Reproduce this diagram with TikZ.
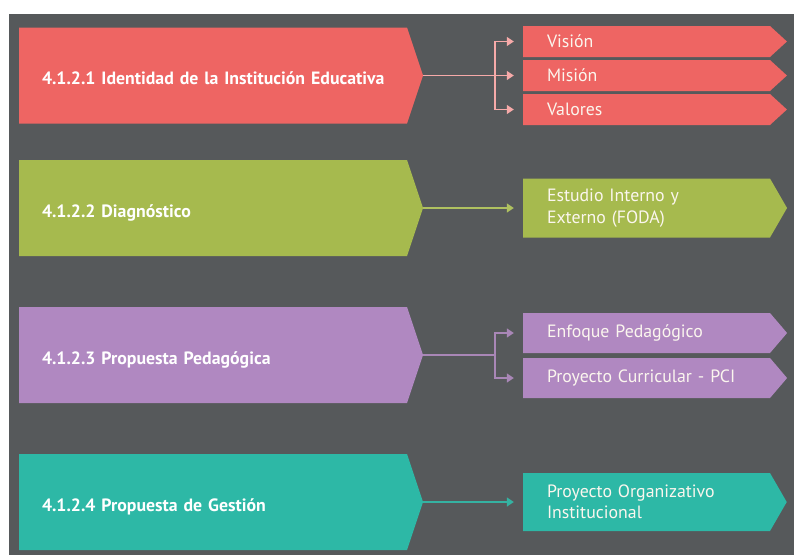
\documentclass[tikz,border=0pt]{standalone}
\usepackage{fontspec}
\setmainfont{PT Sans}
\usepackage{tikz}
\usetikzlibrary{shapes}
\usetikzlibrary{arrows.meta}
\usetikzlibrary{positioning}
\definecolor{fondo}{HTML}{56595B}
\definecolor{rojo}{HTML}{EE6563}
\definecolor{verde}{HTML}{A6BA4E}
\definecolor{morado}{HTML}{B088C1}
\definecolor{turquesa}{HTML}{2DB8A6}
\definecolor{blanco}{HTML}{FBF6EE}
\tikzstyle{tema}=[
        signal,
        signal from=nowhere,
        signal to=east,
        signal pointer angle=143,
        text width=346pt,
        align=left,
        inner xsep=21pt,
        minimum height=96pt,
        text height=18pt,
        text depth=0pt,
        text=white,
        font=\bfseries\fontsize{17.8}{21}\selectfont
]
\tikzstyle{item}=[
        signal,
        signal from=nowhere,
        signal to=east,
        text width=199pt,
        align=left,
        inner xsep=24pt,
        inner ysep=0pt,
        text=blanco,
        font=\fontsize{17.8}{21.5}\selectfont
]
\tikzstyle{suite}=[-{Triangle[length=7pt,width=9pt]},line width=1.5pt,shorten >=9pt]
\tikzstyle{lien}=[line width=1.5pt]

\begin{document}
\begin{tikzpicture}[x=1pt,y=-1pt]
\useasboundingbox (0,0) rectangle (794,555);
\fill[fondo] (9,14) rectangle (794,555);
\node[tema,fill=rojo] (ident) at (213,75.5) {\hspace*{2pt}4.1.2.1 Identidad de la Institución Educativa};
\node[item,fill=rojo,minimum height=31pt,signal pointer angle=85] (vision) at (646.5,41.5) {Visión};
\node[item,fill=rojo,minimum height=31pt,signal pointer angle=85] (mision) at (646.5,75.5) {Misión};
\node[item,fill=rojo,minimum height=31pt,signal pointer angle=85] (valores) at (646.5,109.5) {Valores};
\node[tema,fill=verde] (diag) at (213,208) {\hspace*{2pt}4.1.2.2 Diagnóstico};
\node[item,fill=verde,minimum height=59pt,signal pointer angle=120] (foda) at (646.5,208) {Estudio Interno y\\Externo (FODA)};
\node[tema,fill=morado] (pedag) at (213,355) {\hspace*{2pt}4.1.2.3 Propuesta Pedagógica};
\node[item,fill=morado,minimum height=40pt,signal pointer angle=99] (enfoque) at (646.5,333) {Enfoque Pedagógico};
\node[item,fill=morado,minimum height=40pt,signal pointer angle=99] (pci) at (646.5,378) {Proyecto Curricular - PCI};
\node[tema,fill=turquesa] (gestion) at (213,502) {\hspace*{2pt}4.1.2.4 Propuesta de Gestión};
\node[item,fill=turquesa,minimum height=58pt,signal pointer angle=120] (poi) at (646.5,502) {Proyecto Organizativo\\Institucional};
%Placementdesflèches
\coordinate (r) at (495,75.5);
\coordinate (p) at (495,355);
\draw[suite,draw=rojo!55!white] (ident.east) -- (mision.west);
\draw[suite,draw=rojo!55!white] (r) |- (vision.west);
\draw[suite,draw=rojo!55!white] (r) |- (valores.west);
\draw[suite,draw=verde!90!white] (diag.east) -- (foda.west);
\draw[lien,draw=morado!85!gray] (pedag.east) -- (p);
\draw[suite,draw=morado!85!gray] (p) |- (enfoque.west);
\draw[suite,draw=morado!85!gray] (p) |- (pci.west);
\draw[suite,draw=turquesa!90!gray] (gestion.east) -- (poi.west);
\end{tikzpicture}
\end{document}
